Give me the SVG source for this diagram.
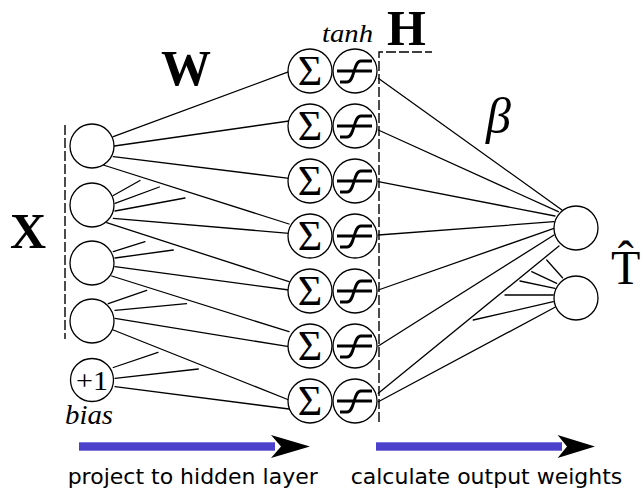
<svg xmlns="http://www.w3.org/2000/svg" xmlns:xlink="http://www.w3.org/1999/xlink" width="641" height="488" viewBox="0 0 641 488">
  <style>
    .edge line { stroke: #000; stroke-width: 1.3; stroke-linecap: round; }
    .unit { fill: #fff; stroke: #000; stroke-width: 1.3; }
    .dash { fill: none; stroke: #000; stroke-width: 1.4; stroke-dasharray: 10 3; }
    .act { fill: none; stroke: #000; stroke-width: 2.8; }
    .sigma { font-family: "Liberation Serif", "DejaVu Serif", serif; font-size: 42px; text-anchor: middle; }
    .mathbf { font-family: "Liberation Serif", "DejaVu Serif", serif; font-weight: bold; font-size: 50px; }
    .mathit { font-family: "Liberation Serif", "DejaVu Serif", serif; font-style: italic; }
    .roman { font-family: "Liberation Serif", "DejaVu Serif", serif; }
    .caption { font-family: "DejaVu Sans", "Liberation Sans", sans-serif; font-size: 22px; text-anchor: middle; }
    .flow { fill: #4b41cc; }
  </style>
  <defs>
    <!-- tanh activation glyph: a level line crossed by an S-curve -->
    <g id="tanh-glyph">
      <line class="act" x1="-18" y1="0" x2="17" y2="0"/>
      <path class="act" d="M-15,11 L-8,11 C0,11 -2,-10 6,-10 L17,-10"/>
    </g>
  </defs>

  <!-- connectors -->
  <g id="connectors" class="edge">
    <!-- input layer to summation units -->
    <line x1="113.3" y1="136.7" x2="289" y2="71.7"/>
    <line x1="114.3" y1="146" x2="289" y2="121"/>
    <line x1="113.3" y1="156.7" x2="289" y2="178.3"/>
    <line x1="103.3" y1="165" x2="289" y2="224"/>
    <line x1="113.3" y1="218.3" x2="289" y2="233.3"/>
    <line x1="106.7" y1="222.7" x2="289" y2="281.7"/>
    <line x1="115" y1="266.7" x2="289" y2="290"/>
    <line x1="111.7" y1="276" x2="289" y2="331.7"/>
    <line x1="115" y1="318.3" x2="289" y2="346.7"/>
    <line x1="113.3" y1="330" x2="289" y2="400"/>
    <line x1="115" y1="386.7" x2="289" y2="409"/>
    <!-- elided input weights -->
    <line x1="113.3" y1="195.5" x2="140" y2="180.5"/>
    <line x1="115" y1="203.3" x2="159.3" y2="187"/>
    <line x1="115" y1="211" x2="185" y2="198"/>
    <line x1="113.3" y1="251.7" x2="145" y2="241.7"/>
    <line x1="115" y1="258" x2="173.3" y2="250"/>
    <line x1="108.3" y1="303.7" x2="146.7" y2="290.3"/>
    <line x1="115" y1="310.3" x2="186.5" y2="303.7"/>
    <line x1="113.3" y1="367.5" x2="158" y2="352.3"/>
    <line x1="115" y1="378.3" x2="198.3" y2="369"/>
    <!-- hidden layer to outputs -->
    <line x1="378.3" y1="78.3" x2="562" y2="210"/>
    <line x1="378.3" y1="130" x2="558.3" y2="211.7"/>
    <line x1="378.3" y1="181.7" x2="555" y2="216"/>
    <line x1="378.3" y1="235" x2="554" y2="221.7"/>
    <line x1="378.3" y1="290" x2="554" y2="228.3"/>
    <line x1="378.3" y1="346" x2="554" y2="235"/>
    <line x1="378.3" y1="393.3" x2="559" y2="246"/>
    <line x1="378.3" y1="401.7" x2="555" y2="307.3"/>
    <!-- elided output weights -->
    <line x1="553.3" y1="301.7" x2="473.3" y2="320"/>
    <line x1="553.3" y1="295" x2="505" y2="295"/>
    <line x1="555" y1="288.3" x2="520" y2="281"/>
    <line x1="556.7" y1="283.3" x2="531.7" y2="271.7"/>
    <line x1="562.5" y1="277.8" x2="546.7" y2="260"/>
  </g>

  <!-- layer brackets -->
  <path class="dash" d="M65,125 V339"/>
  <path class="dash" d="M379,422 V52 H432"/>

  <!-- input layer -->
  <g id="x1"><circle class="unit" cx="92" cy="146" r="22"/></g>
  <g id="x2"><circle class="unit" cx="92" cy="205" r="22"/></g>
  <g id="x3"><circle class="unit" cx="92" cy="263" r="22"/></g>
  <g id="x4"><circle class="unit" cx="92" cy="321" r="22"/></g>
  <g id="bias">
    <circle class="unit" cx="92" cy="380" r="21.5"/>
    <text class="roman" x="92" y="390" font-size="28" text-anchor="middle" textLength="32" lengthAdjust="spacingAndGlyphs">+1</text>
  </g>
  <text class="mathit" x="65" y="424" font-size="27" textLength="48" lengthAdjust="spacingAndGlyphs">bias</text>
  <text class="mathbf" x="10" y="248">X</text>

  <!-- hidden layer: summation + tanh units -->
  <g id="h1">
    <circle class="unit" cx="310" cy="71" r="22"/><text class="sigma" x="310" y="85">Σ</text>
    <circle class="unit" cx="355" cy="71" r="22"/><use xlink:href="#tanh-glyph" x="355" y="71"/>
  </g>
  <g id="h2">
    <circle class="unit" cx="310" cy="126" r="22"/><text class="sigma" x="310" y="140">Σ</text>
    <circle class="unit" cx="355" cy="126" r="22"/><use xlink:href="#tanh-glyph" x="355" y="126"/>
  </g>
  <g id="h3">
    <circle class="unit" cx="310" cy="181" r="22"/><text class="sigma" x="310" y="195">Σ</text>
    <circle class="unit" cx="355" cy="181" r="22"/><use xlink:href="#tanh-glyph" x="355" y="181"/>
  </g>
  <g id="h4">
    <circle class="unit" cx="310" cy="236" r="22"/><text class="sigma" x="310" y="250">Σ</text>
    <circle class="unit" cx="355" cy="236" r="22"/><use xlink:href="#tanh-glyph" x="355" y="236"/>
  </g>
  <g id="h5">
    <circle class="unit" cx="310" cy="291" r="22"/><text class="sigma" x="310" y="305">Σ</text>
    <circle class="unit" cx="355" cy="291" r="22"/><use xlink:href="#tanh-glyph" x="355" y="291"/>
  </g>
  <g id="h6">
    <circle class="unit" cx="310" cy="346" r="22"/><text class="sigma" x="310" y="360">Σ</text>
    <circle class="unit" cx="355" cy="346" r="22"/><use xlink:href="#tanh-glyph" x="355" y="346"/>
  </g>
  <g id="h7">
    <circle class="unit" cx="310" cy="401" r="22"/><text class="sigma" x="310" y="415">Σ</text>
    <circle class="unit" cx="355" cy="401" r="22"/><use xlink:href="#tanh-glyph" x="355" y="401"/>
  </g>
  <text class="mathit" x="322" y="42" font-size="26" textLength="51" lengthAdjust="spacingAndGlyphs">tanh</text>
  <text class="mathbf" x="387" y="45">H</text>
  <text class="mathbf" x="161" y="85">W</text>

  <!-- output layer -->
  <g id="t1"><circle class="unit" cx="576" cy="228" r="22"/></g>
  <g id="t2"><circle class="unit" cx="576" cy="298" r="22"/></g>
  <text class="mathit" x="486" y="133" font-size="50">β</text>
  <text class="roman" x="611" y="284" font-size="48">T̂</text>

  <!-- process arrows -->
  <g id="arrow-project">
    <rect class="flow" x="79" y="442.3" width="196" height="8.4"/>
    <polygon points="310,446.5 271,435 281,446.5 271,458"/>
  </g>
  <g id="arrow-output">
    <rect class="flow" x="376" y="442.3" width="186" height="8.4"/>
    <polygon points="595,446.5 557.6,435 567,446.5 557.6,458"/>
  </g>
  <text class="caption" x="192.7" y="484">project to hidden layer</text>
  <text class="caption" x="486.5" y="484">calculate output weights</text>
</svg>
